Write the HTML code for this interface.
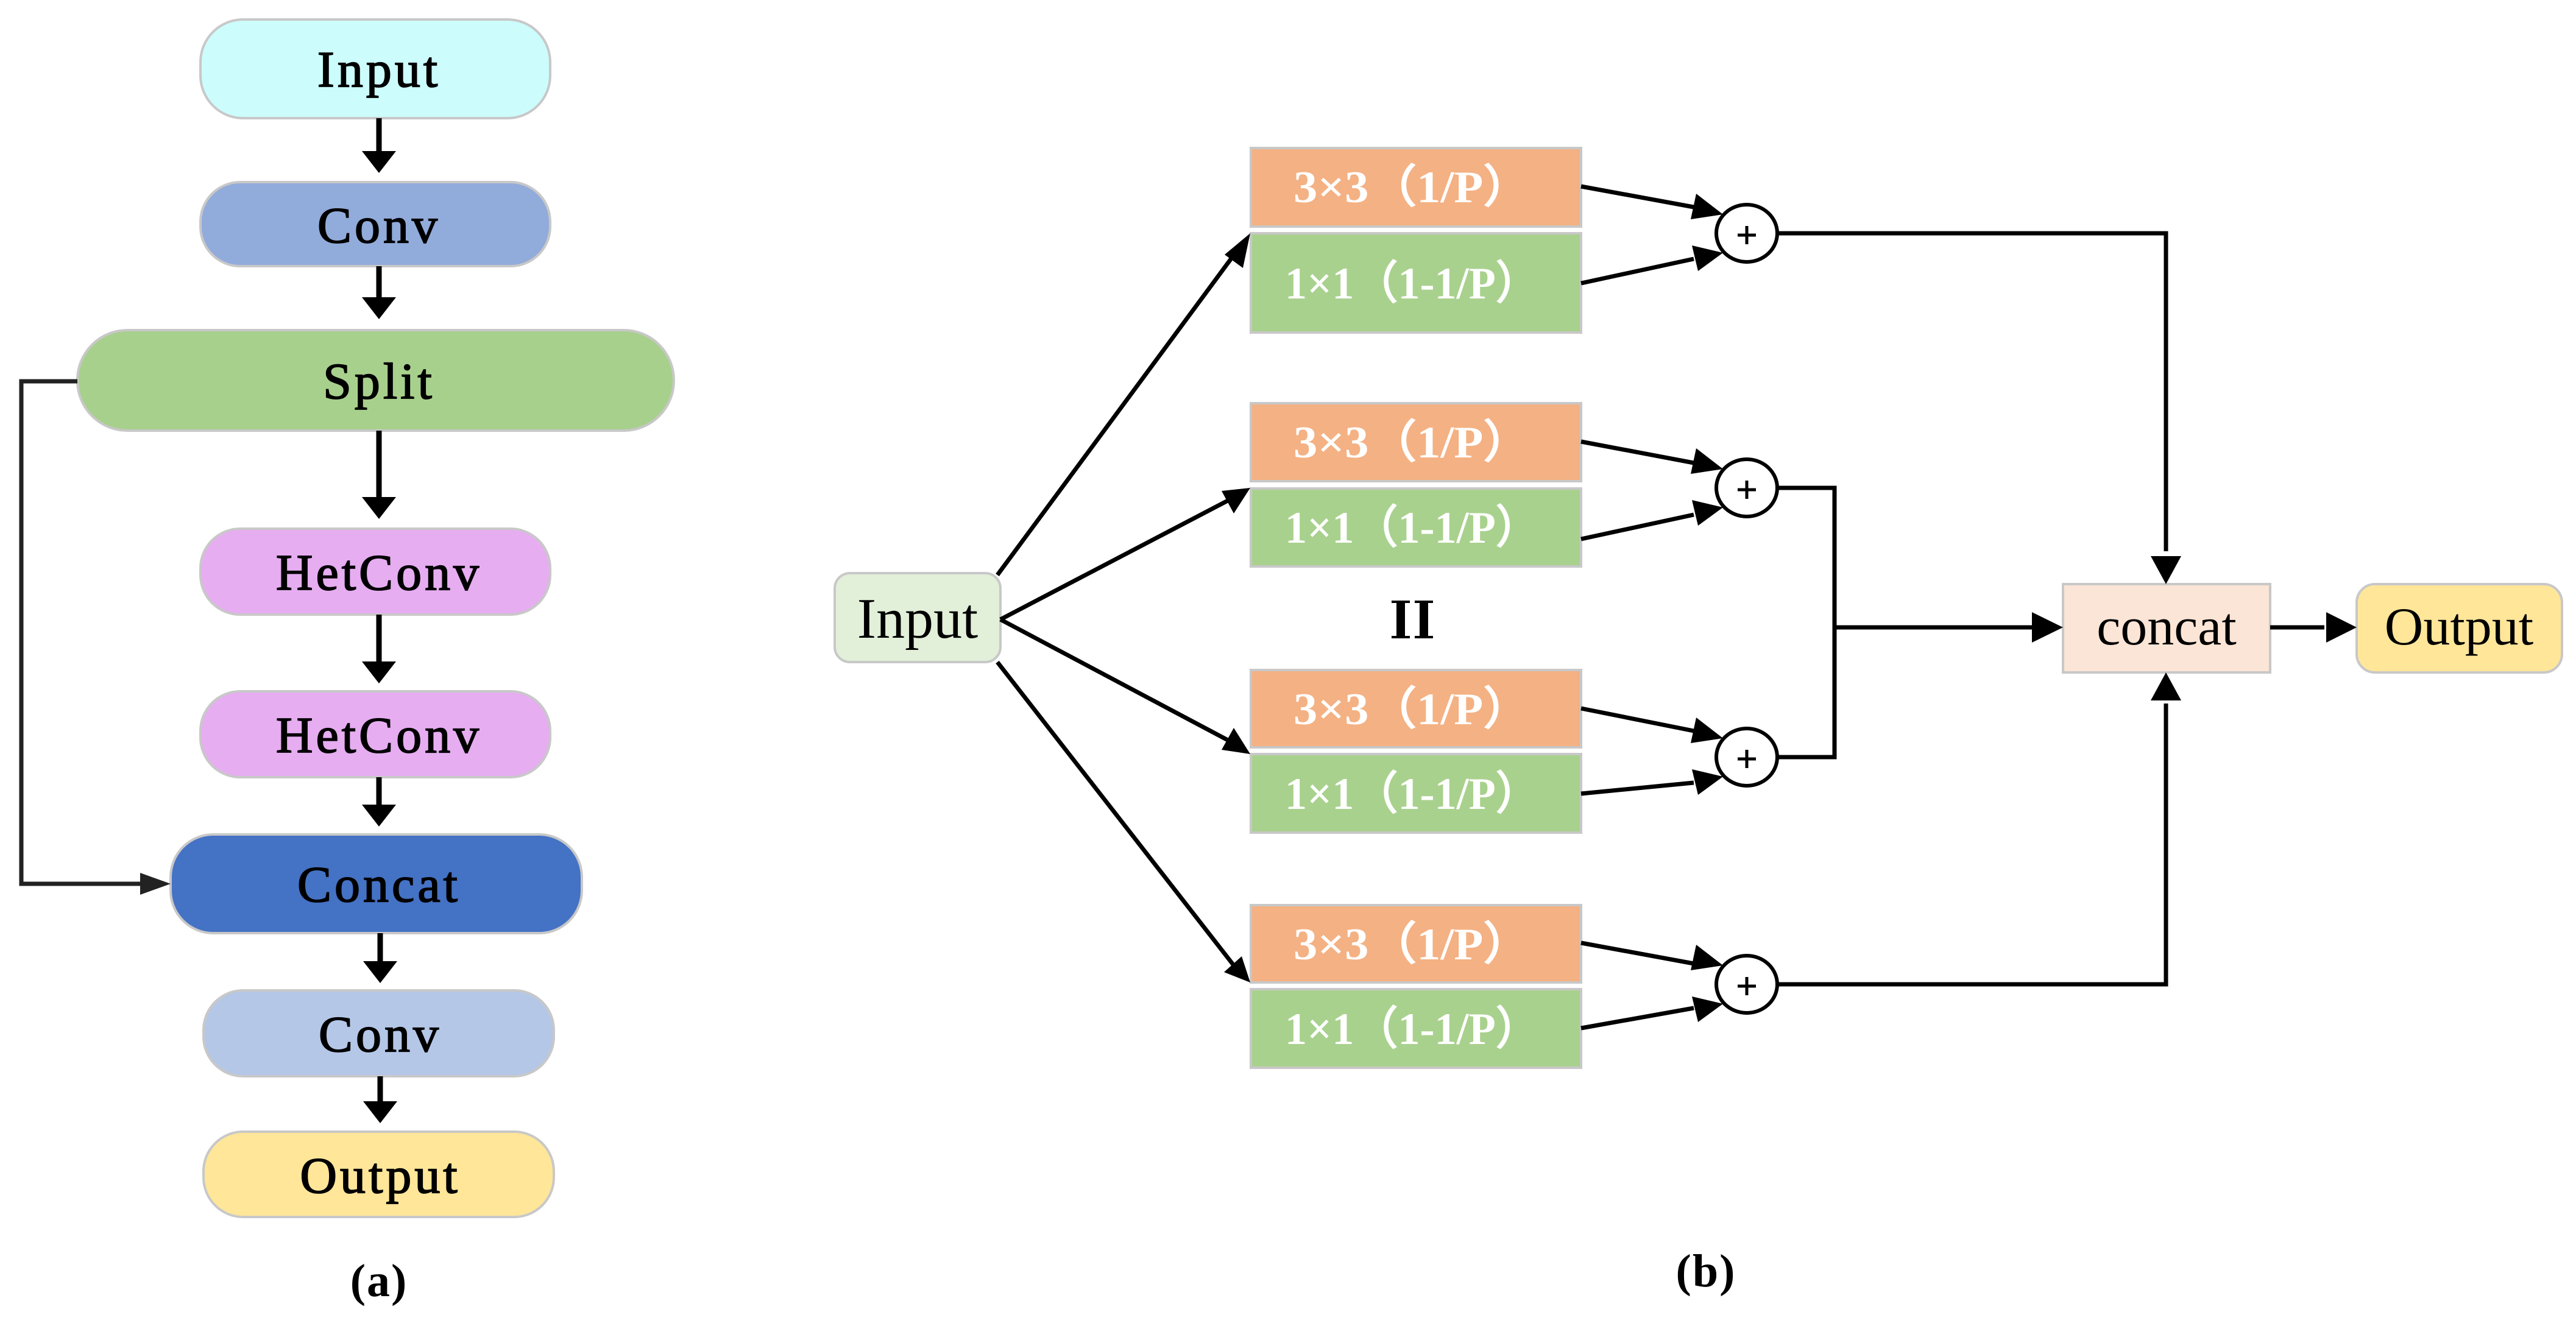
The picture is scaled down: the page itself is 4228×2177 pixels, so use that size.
<!DOCTYPE html>
<html><head><meta charset="utf-8"><style>html,body{margin:0;padding:0;background:#fff}svg{display:block}</style></head>
<body>
<svg width="4228" height="2177" viewBox="0 0 4228 2177" xmlns="http://www.w3.org/2000/svg">
<g stroke="#c8c8c8" stroke-width="4">
<rect x="329" y="32" width="574" height="162" rx="70" fill="#ccfcfc"/>
<rect x="329" y="299" width="574" height="138" rx="65" fill="#91abdb"/>
<rect x="127" y="542" width="979" height="165" rx="82" fill="#a8d08d"/>
<rect x="329" y="868" width="574" height="141" rx="65" fill="#e6adf1"/>
<rect x="329" y="1135" width="574" height="141" rx="65" fill="#e6adf1"/>
<rect x="280" y="1370" width="675" height="162" rx="70" fill="#4472c4"/>
<rect x="334" y="1626" width="575" height="141" rx="65" fill="#b4c7e7"/>
<rect x="334" y="1858" width="575" height="140" rx="65" fill="#ffe699"/>
</g>
<g font-family="Liberation Serif, serif" font-size="84" text-anchor="middle" fill="#000" stroke="#000" stroke-width="1.8" letter-spacing="5">
<text x="622" y="142">Input</text>
<text x="622" y="398">Conv</text>
<text x="622" y="654">Split</text>
<text x="622" y="968">HetConv</text>
<text x="622" y="1235">HetConv</text>
<text x="622" y="1480">Concat</text>
<text x="624" y="1726">Conv</text>
<text x="624" y="1958">Output</text>
</g>
<g font-family="Liberation Serif, serif" font-weight="bold" font-size="76" text-anchor="middle" fill="#000" letter-spacing="2">
<text x="622" y="2128">(a)</text>
<text x="2800" y="2112">(b)</text>
</g>
<g stroke="#000" stroke-width="9" fill="none">
<path d="M622 194V248M622 437V488M622 707V816M622 1009V1086M622 1276V1321M624 1532V1578M624 1767V1808"/>
</g>
<g fill="#000">
<path d="M594 248H650L622 284Z"/><path d="M594 488H650L622 524Z"/><path d="M594 816H650L622 852Z"/>
<path d="M594 1086H650L622 1122Z"/><path d="M594 1321H650L622 1357Z"/><path d="M596 1578H652L624 1614Z"/><path d="M596 1808H652L624 1844Z"/>
</g>
<path d="M127 626H35V1451H232" stroke="#222" stroke-width="7" fill="none"/>
<path d="M230 1433L280 1451L230 1469Z" fill="#222"/>

<rect x="1370" y="941" width="272" height="146" rx="25" fill="#e2efd9" stroke="#c8c8c8" stroke-width="4"/>
<g stroke="#c8c8c8" stroke-width="4">
<rect x="2053" y="243" width="542" height="129" fill="#f4b183"/><rect x="2053" y="383" width="542" height="163" fill="#a9d18e"/>
<rect x="2053" y="662" width="542" height="128" fill="#f4b183"/><rect x="2053" y="802" width="542" height="128" fill="#a9d18e"/>
<rect x="2053" y="1100" width="542" height="127" fill="#f4b183"/><rect x="2053" y="1238" width="542" height="129" fill="#a9d18e"/>
<rect x="2053" y="1486" width="542" height="127" fill="#f4b183"/><rect x="2053" y="1624" width="542" height="129" fill="#a9d18e"/>
<rect x="3386" y="959" width="340" height="145" fill="#fbe5d6"/>
<rect x="3868" y="959" width="337" height="145" rx="30" fill="#ffe699"/>
</g>
<g font-family="Liberation Serif, serif" font-weight="bold" font-size="74" fill="#fff" text-anchor="middle" lengthAdjust="spacingAndGlyphs">
<text x="2318" y="332" textLength="390" lengthAdjust="spacingAndGlyphs">3×3（1/P）</text><text x="2318" y="490" textLength="418" lengthAdjust="spacingAndGlyphs">1×1（1-1/P）</text>
<text x="2318" y="751" textLength="390" lengthAdjust="spacingAndGlyphs">3×3（1/P）</text><text x="2318" y="891" textLength="418" lengthAdjust="spacingAndGlyphs">1×1（1-1/P）</text>
<text x="2318" y="1189" textLength="390" lengthAdjust="spacingAndGlyphs">3×3（1/P）</text><text x="2318" y="1328" textLength="418" lengthAdjust="spacingAndGlyphs">1×1（1-1/P）</text>
<text x="2318" y="1575" textLength="390" lengthAdjust="spacingAndGlyphs">3×3（1/P）</text><text x="2318" y="1714" textLength="418" lengthAdjust="spacingAndGlyphs">1×1（1-1/P）</text>
</g>
<g font-family="Liberation Serif, serif" font-size="88" fill="#000" text-anchor="middle">
<text x="1506" y="1047" font-size="94">Input</text>
<text x="3556" y="1058">concat</text>
<text x="4036" y="1058">Output</text>
</g>
<g fill="#000">
<rect x="2292" y="986" width="14" height="62"/><rect x="2330" y="986" width="14" height="62"/>
<rect x="2284" y="986" width="30" height="4"/><rect x="2284" y="1044" width="30" height="4"/>
<rect x="2322" y="986" width="30" height="4"/><rect x="2322" y="1044" width="30" height="4"/>
</g>
<g stroke="#000" stroke-width="7" fill="none">
<path d="M1637 944L2030 412M1642 1017L2015 822M1642 1017L2015 1215M1637 1087L2025 1585"/>
<path d="M2595 306L2780 340M2595 465L2780 425M2595 725L2780 760M2595 885L2780 845M2595 1163L2780 1200M2595 1303L2780 1285M2595 1548L2780 1582M2595 1688L2780 1655"/>
<path d="M2919 383H3555V905M2919 801H3011V1243H2919M3011 1030H3335M2919 1616H3555V1155M3726 1030H3815"/>
</g>
<g fill="#000">
<path d="M2052 383L2040 440L2010 418Z"/>
<path d="M2052 801L2025 843L2005 806Z"/>
<path d="M2052 1238L2005 1231L2025 1195Z"/>
<path d="M2052 1613L2009 1596L2038 1570Z"/>
<path d="M2828 352L2775 360L2784 318Z"/><path d="M2828 415L2787 445L2777 403Z"/>
<path d="M2828 770L2775 778L2784 736Z"/><path d="M2828 833L2787 863L2777 821Z"/>
<path d="M2828 1212L2775 1220L2784 1178Z"/><path d="M2828 1275L2787 1305L2777 1263Z"/>
<path d="M2828 1585L2775 1593L2784 1551Z"/><path d="M2828 1648L2787 1678L2777 1636Z"/>
<path d="M3530 913H3580L3555 959Z"/><path d="M3530 1150H3580L3555 1104Z"/>
<path d="M3335 1005V1055L3386 1030Z"/><path d="M3818 1005V1055L3868 1030Z"/>
</g>
<g stroke="#000" stroke-width="6" fill="#fff">
<ellipse cx="2867" cy="383" rx="50" ry="47"/><ellipse cx="2867" cy="801" rx="50" ry="47"/>
<ellipse cx="2867" cy="1243" rx="50" ry="47"/><ellipse cx="2867" cy="1616" rx="50" ry="47"/>
</g>
<g stroke="#000" stroke-width="5">
<path d="M2852 386H2882M2867 371V401M2852 804H2882M2867 789V819M2852 1246H2882M2867 1231V1261M2852 1619H2882M2867 1604V1634"/>
</g>
</svg>
</body></html>
